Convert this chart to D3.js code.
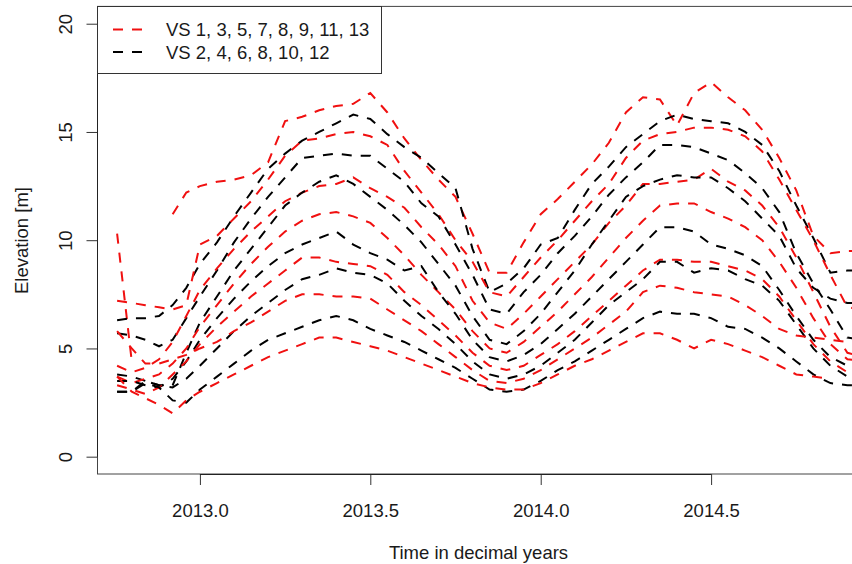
<!DOCTYPE html>
<html><head><meta charset="utf-8">
<script src="https://cdn.jsdelivr.net/npm/d3@7"></script>
<style>
body{margin:0;background:#fff;overflow:hidden}
svg{display:block}
text{font-family:"Liberation Sans", Arial, Helvetica, sans-serif; fill:#1a1a1a}
</style>
</head><body>
<svg id="chart" width="852" height="564"></svg>
<script>
// ---- data ----
const years = [2012.757, 2012.80, 2012.84, 2012.88, 2012.92, 2012.96, 2013.00, 2013.05, 2013.10, 2013.15,
  2013.20, 2013.25, 2013.30, 2013.35, 2013.40, 2013.45, 2013.50, 2013.55, 2013.60, 2013.65,
  2013.70, 2013.75, 2013.80, 2013.85, 2013.90, 2013.95, 2014.00, 2014.05, 2014.10, 2014.15,
  2014.20, 2014.25, 2014.30, 2014.35, 2014.40, 2014.45, 2014.50, 2014.55, 2014.60, 2014.65,
  2014.70, 2014.75, 2014.80, 2014.85, 2014.90, 2014.95];

const vs1  = [10.3, 4.4, null, null, 11.2, 12.2, 12.5, 12.7, 12.8, 13.0, 13.6, 15.5, 15.7, 16.0, 16.2, 16.3, 16.8, 15.9, 14.7, 13.7, 12.8, 12.0, 10.3, 8.5, 8.5, 9.9, 11.2, 11.9, 12.7, 13.5, 14.5, 15.9, 16.6, 16.5, 15.3, 16.8, 17.3, 16.6, 16.0, 15.1, 13.8, 12.3, 10.2, 9.4, 9.5, 9.5];
const vs2  = [6.3, 6.4, 6.4, 6.5, 7.0, 7.8, 8.9, 9.9, 11.1, 12.2, 13.3, 14.0, 14.6, 15.0, 15.4, 15.8, 15.6, 14.9, 14.3, 13.8, 13.1, 12.4, 9.6, 7.6, 8.0, 8.7, 9.8, 10.1, 11.4, 12.6, 13.4, 14.3, 14.9, 15.5, 15.8, 15.6, 15.5, 15.4, 15.0, 14.4, 13.2, 11.6, 10.1, 8.5, 8.6, 8.6];
const vs3  = [7.2, 7.1, 7.0, 6.9, 6.8, 7.0, 9.8, 10.2, 11.0, 11.8, 12.8, 13.9, 14.6, 14.7, 14.9, 15.0, 14.8, 14.4, 13.2, 12.2, 11.2, 10.0, 9.0, 7.6, 7.4, 8.3, 9.2, 10.0, 10.9, 11.8, 12.6, 13.8, 14.6, 14.9, 15.0, 15.2, 15.2, 15.1, 14.8, 14.1, 12.8, 11.4, 10.0, 8.4, 6.9, 6.8];
const vs4  = [5.7, 5.6, 5.4, 5.1, 5.4, 6.4, 7.4, 8.6, 9.9, 11.0, 12.0, 12.9, 13.8, 13.9, 14.0, 13.9, 13.9, 13.3, 12.7, 11.7, 11.1, 9.8, 8.4, 6.8, 6.6, 7.6, 8.4, 9.4, 10.2, 11.1, 12.1, 12.9, 13.6, 14.4, 14.4, 14.3, 14.0, 13.7, 13.1, 12.4, 11.3, 9.4, 8.0, 6.8, 5.5, 5.4];
const vs5  = [4.2, 3.9, 4.1, 4.5, 5.3, 6.5, 7.7, 8.7, 9.6, 10.4, 11.1, 11.8, 12.2, 12.5, 12.6, 12.9, 12.4, 12.0, 11.5, 10.6, 9.8, 8.8, 7.2, 6.2, 5.9, 6.6, 7.4, 8.2, 9.0, 9.8, 10.8, 11.6, 12.6, 12.6, 12.7, 12.8, 13.3, 12.7, 12.3, 11.6, 10.6, 9.2, 7.6, 6.0, 4.8, 4.6];
const vs6  = [3.8, 3.7, 3.5, 3.3, 3.3, 4.8, 6.2, 7.4, 8.6, 9.6, 10.6, 11.6, 12.2, 12.7, 13.0, 12.6, 12.0, 11.4, 10.7, 9.9, 8.9, 7.9, 6.5, 5.4, 5.2, 5.8, 6.6, 7.6, 8.6, 9.8, 10.9, 12.0, 12.5, 12.8, 13.0, 12.9, 12.9, 12.4, 11.8, 11.0, 10.2, 8.7, 7.8, 7.3, 7.1, 7.1];
const vs7  = [3.7, 3.4, 3.6, 3.8, 4.3, 5.0, 6.0, 7.0, 8.0, 8.9, 9.7, 10.4, 10.9, 11.2, 11.3, 11.1, 10.8, 10.1, 9.3, 8.4, 7.6, 6.8, 5.8, 5.0, 4.8, 5.3, 6.0, 6.7, 7.5, 8.3, 9.2, 10.1, 10.9, 11.6, 11.7, 11.7, 11.3, 11.0, 10.6, 10.0, 9.0, 7.8, 6.4, 5.2, 4.5, 4.4];
const vs8  = [3.5, 3.5, 3.3, 3.2, 3.6, 4.4, 5.4, 6.4, 7.3, 8.1, 8.8, 9.4, 9.8, 10.1, 10.4, 9.8, 9.4, 9.1, 8.6, 8.8, 7.6, 6.6, 5.4, 4.6, 4.4, 4.7, 5.2, 5.9, 6.6, 7.4, 8.2, 9.0, 9.8, 10.6, 10.6, 10.4, 9.8, 9.6, 9.3, 8.8, 7.7, 6.5, 5.4, 4.6, 4.2, 4.1];
const vs9  = [3.3, 3.1, 2.9, 3.2, 3.8, 4.4, 5.2, 6.0, 6.7, 7.4, 8.0, 8.6, 9.2, 9.2, 9.0, 8.9, 8.8, 8.4, 7.6, 7.0, 6.3, 5.6, 4.8, 4.2, 4.0, 4.2, 4.7, 5.2, 5.8, 6.5, 7.2, 7.9, 8.6, 9.1, 9.1, 9.0, 9.0, 8.8, 8.6, 8.2, 7.4, 6.3, 5.2, 4.4, 3.9, 3.8];
const vs10 = [3.0, 3.0, 3.5, 3.3, 3.2, 3.6, 4.2, 5.0, 5.8, 6.5, 7.1, 7.7, 8.2, 8.4, 8.7, 8.5, 8.4, 8.0, 7.2, 6.5, 5.9, 5.2, 4.4, 3.8, 3.6, 3.8, 4.2, 4.8, 5.4, 6.2, 7.0, 7.6, 8.2, 9.0, 9.0, 8.5, 8.7, 8.6, 8.2, 7.9, 7.2, 6.1, 5.0, 4.2, 3.7, 3.6];
const vs11 = [5.8, 5.0, 4.3, 4.3, 4.5, 4.7, 5.0, 5.3, 5.8, 6.2, 6.7, 7.2, 7.5, 7.5, 7.4, 7.4, 7.3, 6.8, 6.3, 5.8, 5.2, 4.6, 4.0, 3.5, 3.4, 3.6, 4.0, 4.5, 5.0, 5.5, 6.1, 6.7, 7.6, 7.9, 7.8, 7.6, 7.5, 7.4, 7.0, 6.5, 5.9, 5.6, 5.5, 5.4, 5.3, 5.3];
const vs12 = [3.0, 3.0, 3.4, 3.2, 2.6, 2.5, 3.1, 3.7, 4.3, 4.9, 5.4, 5.7, 6.0, 6.3, 6.5, 6.3, 5.9, 5.6, 5.3, 4.9, 4.5, 4.1, 3.6, 3.1, 3.0, 3.1, 3.5, 4.0, 4.4, 4.9, 5.4, 5.9, 6.4, 6.7, 6.6, 6.6, 6.4, 6.0, 5.9, 5.5, 5.0, 4.4, 3.8, 3.4, 3.3, 3.3];
const vs13 = [3.7, 3.0, 2.7, 2.4, 2.0, 2.6, 3.0, 3.4, 3.8, 4.2, 4.6, 4.9, 5.2, 5.5, 5.5, 5.3, 5.1, 4.9, 4.6, 4.3, 4.0, 3.7, 3.4, 3.2, 3.1, 3.1, 3.4, 3.8, 4.2, 4.5, 4.9, 5.3, 5.7, 5.7, 5.4, 5.0, 5.4, 5.2, 4.9, 4.6, 4.2, 3.8, 3.7, 3.6, null, null];

const seriesList = [vs1, vs2, vs3, vs4, vs5, vs6, vs7, vs8, vs9, vs10, vs11, vs12, vs13];
const seriesGroup = ["red", "black", "red", "black", "red", "black", "red", "black", "red", "black", "red", "black", "red"];
const legendLabels = ["VS 1, 3, 5, 7, 8, 9, 11, 13", "VS 2, 4, 6, 8, 10, 12"];
const legendColors = ["red", "black"];
const xTicks = [2013.0, 2013.5, 2014.0, 2014.5];
const yTicks = [0, 5, 10, 15, 20];
const xTitle = "Time in decimal years";
const yTitle = "Elevation [m]";

// ---- drawing ----
const colorOf = {red: "#f01010", black: "#000000"};
const svg = d3.select("#chart");
const P = {left: 97, right: 859, top: 6.4, bottom: 474};
const x = d3.scaleLinear().domain([2012.698, 2014.934]).range([P.left, P.right]);
const y = d3.scaleLinear().domain([-0.8, 20.8]).range([P.bottom, P.top]);
const FS = "18.5px";

svg.append("rect").attr("width", 852).attr("height", 564).attr("fill", "#fff");

svg.append("clipPath").attr("id", "clip").append("rect")
  .attr("x", P.left).attr("y", P.top).attr("width", P.right - P.left).attr("height", P.bottom - P.top);

const line = d3.line()
  .defined(d => d[1] !== null)
  .x(d => x(d[0])).y(d => y(d[1]));

const gLines = svg.append("g").attr("clip-path", "url(#clip)");
seriesList.forEach((s, i) => {
  gLines.append("path")
    .datum(years.map((t, j) => [t, s[j]]))
    .attr("d", line)
    .attr("fill", "none")
    .attr("stroke", colorOf[seriesGroup[i]])
    .attr("stroke-width", 2)
    .attr("stroke-dasharray", "10,9");
});

// box
svg.append("rect")
  .attr("x", P.left + 0.5).attr("y", P.top)
  .attr("width", P.right - P.left).attr("height", P.bottom - P.top)
  .attr("fill", "none").attr("stroke", "#444").attr("stroke-width", 1);

// x axis
const gx = svg.append("g").attr("transform", `translate(0,${P.bottom})`)
  .call(d3.axisBottom(x).tickValues(xTicks).tickSize(11).tickFormat(d3.format(".1f")));
gx.select(".domain").remove();
gx.selectAll(".tick line").attr("stroke", "#333");
gx.selectAll(".tick text").attr("y", 42.7).attr("dy", null)
  .style("font-size", FS).style("font-family", null);
gx.append("line").attr("x1", x(xTicks[0])).attr("x2", x(xTicks[xTicks.length - 1]))
  .attr("y1", 0.5).attr("y2", 0.5).attr("stroke", "#222");

// y axis
const gy = svg.append("g").attr("transform", `translate(${P.left + 0.5},0)`)
  .call(d3.axisLeft(y).tickValues(yTicks).tickSize(11).tickFormat(d3.format("d")));
gy.select(".domain").remove();
gy.selectAll(".tick line").attr("stroke", "#333");
gy.selectAll(".tick text").attr("x", null).attr("dy", null)
  .attr("text-anchor", "middle")
  .attr("transform", "translate(-26,0) rotate(-90)")
  .style("font-size", FS).style("font-family", null);
gy.append("line").attr("x1", 0).attr("x2", 0)
  .attr("y1", y(yTicks[0])).attr("y2", y(yTicks[yTicks.length - 1])).attr("stroke", "#222");
svg.selectAll(".tick text").attr("fill", "#1a1a1a");

// titles
svg.append("text").attr("x", 478.5).attr("y", 559).attr("text-anchor", "middle")
  .style("font-size", FS).text(xTitle);
svg.append("text").attr("transform", "translate(27.5,240.5) rotate(-90)")
  .attr("text-anchor", "middle").style("font-size", FS).text(yTitle);

// legend
const lg = svg.append("g");
lg.append("rect").attr("x", 97.5).attr("y", 6.5).attr("width", 284).attr("height", 67)
  .attr("fill", "#fff").attr("stroke", "#333");
legendLabels.forEach((lab, i) => {
  const cy = 29.5 + i * 22.5;
  lg.append("line").attr("x1", 113).attr("x2", 142).attr("y1", cy).attr("y2", cy)
    .attr("stroke", colorOf[legendColors[i]]).attr("stroke-width", 2)
    .attr("stroke-dasharray", "10,9");
  lg.append("text").attr("x", 166).attr("y", cy + 6.5).style("font-size", FS).text(lab);
});
</script>
</body></html>
